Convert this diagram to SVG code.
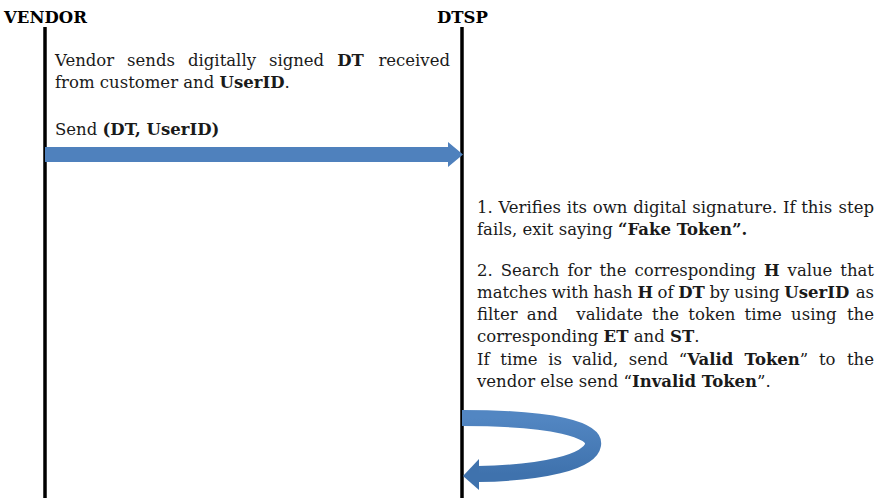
<svg xmlns="http://www.w3.org/2000/svg" width="880" height="500" viewBox="0 0 880 500">
<style>
text{font-family:"DejaVu Serif","Liberation Serif",serif;font-size:16.5px;fill:#1a1a1a}
.b{font-weight:bold}
.h{font-weight:bold;font-size:16.5px;fill:#000}
.life{stroke:#000;stroke-width:3.5}
.flow{fill:#4f81bd}
</style>
<defs>
<linearGradient id="loopg" x1="0" y1="0" x2="0" y2="1">
<stop offset="0" stop-color="#5286c2"/>
<stop offset="1" stop-color="#3f72ad"/>
</linearGradient>
</defs>
<rect width="880" height="500" fill="#fff"/>
<g id="vendor">
<text class="h" x="4" y="23">VENDOR</text>
<line class="life" x1="45" y1="27" x2="45" y2="498"/>
</g>
<g id="dtsp">
<text class="h" x="437" y="23">DTSP</text>
<line class="life" x1="462" y1="27" x2="462" y2="498"/>
</g>
<g id="vendor-note">
<text y="66" word-spacing="7.7"><tspan x="55">Vendor sends digitally signed <tspan class="b">DT</tspan></tspan><tspan x="450" text-anchor="end">received</tspan></text>
<text x="55" y="88">from customer and <tspan class="b">UserID</tspan>.</text>
<text x="55" y="135">Send <tspan class="b">(DT, UserID)</tspan></text>
</g>
<g id="dtsp-note">
<text y="213" word-spacing="0.45"><tspan x="477">1. Verifies its own digital signature. If this</tspan><tspan x="874" text-anchor="end">step</tspan></text>
<text x="477" y="235">fails, exit saying <tspan class="b">“Fake Token”.</tspan></text>
<text y="276" word-spacing="2.8"><tspan x="477">2. Search for the corresponding <tspan class="b">H</tspan> value</tspan><tspan x="874" text-anchor="end">that</tspan></text>
<text y="298" word-spacing="-0.6"><tspan x="477">matches with hash <tspan class="b">H</tspan> of <tspan class="b">DT</tspan> by using <tspan class="b">UserID</tspan></tspan><tspan x="874" text-anchor="end">as</tspan></text>
<text y="320" word-spacing="4"><tspan x="477">filter and&#160; validate the token time using</tspan><tspan x="874" text-anchor="end">the</tspan></text>
<text x="477" y="342">corresponding <tspan class="b">ET</tspan> and <tspan class="b">ST</tspan>.</text>
<text y="365" word-spacing="5.4"><tspan x="477">If time is valid, send “<tspan class="b">Valid Token</tspan>” to</tspan><tspan x="874" text-anchor="end">the</tspan></text>
<text x="477" y="387">vendor else send “<tspan class="b">Invalid Token</tspan>”.</text>
</g>
<g id="connectors">
<polygon class="flow" points="45,147 448,147 448,142 463,154.5 448,167 448,162 45,162"/>
<path d="M462,418 C555,418 596,430 593,445 C590,462 542,473 478,474" fill="none" stroke="url(#loopg)" stroke-width="16"/>
<polygon fill="#3f72ad" points="463,476 479,459 479,490"/>
</g>
</svg>
